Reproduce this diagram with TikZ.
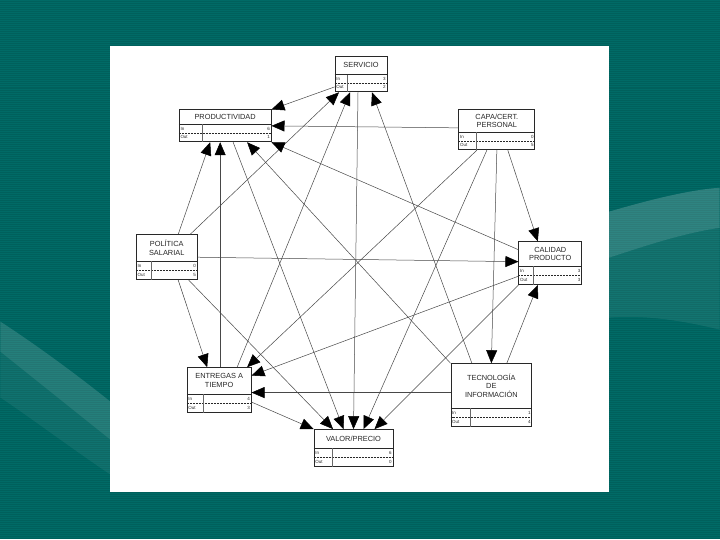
\documentclass[tikz,border=0pt]{standalone}
\usepackage{fontspec}
\setmainfont{Liberation Sans}
\usetikzlibrary{arrows.meta,calc}
\definecolor{bgteal}{RGB}{0,106,102}
\definecolor{bgstripe}{RGB}{0,96,92}
\definecolor{ink}{RGB}{40,40,40}
\newcommand\boxrows[7]{%
  \node[ttl] (#1-t) at ($(#1.north)+(0,{#2/2})$) {#7};
  \draw[sepline] ($(#1.north west)+(0,#2)$) -- ($(#1.north east)+(0,#2)$);
  \draw[rowline] ($(#1.north west)+(0,#3)$) -- ($(#1.north east)+(0,#3)$);
  \draw[divline] ($(#1.north west)+(#4,#2)$) -- ($(#1.south west)+(#4,0)$);
  \node[lab,anchor=west] (#1-in) at ($(#1.north west)+(1.5,{(#2+#3)/2})$) {In};
  \node[lab,anchor=west] (#1-out) at ($(#1.north west)+(1.5,{(3*#3-#2)/2})$) {Out};
  \node[lab,anchor=east] (#1-ni) at ($(#1.north east)+(-1.5,{(#2+#3)/2})$) {#5};
  \node[lab,anchor=east] (#1-no) at ($(#1.north east)+(-1.5,{(3*#3-#2)/2})$) {#6};
}
\begin{document}
\begin{tikzpicture}[x=1pt,y=-1pt,
  blk/.style={draw=ink, line width=0.8pt, fill=white, inner sep=0pt},
  ttl/.style={font=\fontsize{7.4}{8.6}\selectfont, text=ink, align=center, inner sep=0pt},
  lab/.style={font=\fontsize{4.5}{4.5}\selectfont, text=ink, inner sep=0pt},
  sepline/.style={draw=ink, line width=0.5pt},
  rowline/.style={draw=ink, line width=0.5pt, dash pattern=on 2pt off 1pt},
  divline/.style={draw=ink!70, line width=0.35pt},
  arr/.style={draw=ink!85, line width=0.5pt, -{Triangle[length=13pt,width=11pt,fill=black,color=black]}}]
% background
\fill[bgteal] (0,0) rectangle (720,540);
\foreach \yy in {1,3,...,540} \draw[bgstripe, line width=0.8pt] (0,\yy) -- (720,\yy);
\fill[white, opacity=0.18] (609,212) .. controls (650,200) and (690,190) .. (720,188) -- (720,228) .. controls (680,234) and (640,248) .. (609,258) -- cycle;
\fill[white, opacity=0.07] (609,258) .. controls (640,248) and (680,234) .. (720,228) -- (720,330) .. controls (680,320) and (640,315) .. (609,318) -- cycle;
\fill[white, opacity=0.14] (0,322) .. controls (40,348) and (80,378) .. (110,402) -- (110,440) .. controls (75,412) and (35,380) .. (0,352) -- cycle;
\fill[white, opacity=0.06] (0,352) .. controls (35,380) and (75,412) .. (110,440) -- (110,475) .. controls (70,448) and (30,418) .. (0,398) -- cycle;
% panel
\fill[white] (110,46) rectangle (609,493);
\useasboundingbox (0,0) rectangle (720,540);
% nodes
\node[blk, minimum width=52pt, minimum height=36pt] (serv) at (361,74) {};
\node[blk, minimum width=92pt, minimum height=32pt] (prod) at (225,126) {};
\node[blk, minimum width=76pt, minimum height=40pt] (capa) at (497,130) {};
\node[blk, minimum width=61pt, minimum height=45pt] (pol) at (166.5,257.5) {};
\node[blk, minimum width=63pt, minimum height=43pt] (cal) at (550.5,263.5) {};
\node[blk, minimum width=64pt, minimum height=45pt] (ent) at (219,390.5) {};
\node[blk, minimum width=81pt, minimum height=63pt] (tec) at (491.5,395.5) {};
\node[blk, minimum width=79pt, minimum height=37pt] (valor) at (353.5,448.5) {};
\boxrows{serv}{19}{27.5}{13}{3}{2}{SERVICIO}
\boxrows{prod}{15}{23.5}{23}{6}{1}{PRODUCTIVIDAD}
\boxrows{capa}{23}{31.5}{18}{0}{5}{CAPA/CERT.\\PERSONAL}
\boxrows{pol}{27}{36}{15}{0}{5}{POLÍTICA\\SALARIAL}
\boxrows{cal}{25}{34}{15}{3}{3}{CALIDAD\\PRODUCTO}
\boxrows{ent}{27}{36}{16}{4}{3}{ENTREGAS A\\TIEMPO}
\boxrows{tec}{45}{54}{20}{1}{4}{TECNOLOGÍA\\DE\\INFORMACIÓN}
\boxrows{valor}{19}{28}{19}{6}{0}{VALOR/PRECIO}
% connectors
\draw[arr] ([xshift=23.5pt]pol.north) -- ([xshift=-22pt]serv.south);
\draw[arr] ([xshift=18pt]ent.north) -- ([xshift=-11pt]serv.south);
\draw[arr] ([xshift=-19.5pt]tec.north) -- ([xshift=11pt]serv.south);
\draw[arr] ([yshift=-13pt]serv.west) -- (prod.north east);
\draw[arr] ([yshift=2pt]capa.west) -- (prod.east);
\draw[arr] ([xshift=11.5pt]pol.north) -- ([xshift=-15pt]prod.south);
\draw[arr] ([xshift=1pt]ent.north) -- ([xshift=-5pt]prod.south);
\draw[arr] (tec.north west) -- ([xshift=22pt]prod.south);
\draw[arr] ([yshift=13.5pt]cal.west) -- (prod.south east);
\draw[arr] ([xshift=11pt]capa.south) -- ([xshift=-12.5pt]cal.north);
\draw[arr] (pol.east) -- ([yshift=1.5pt]cal.west);
\draw[arr] ([xshift=15.5pt]tec.north) -- ([xshift=-12.5pt]cal.south);
\draw[arr] ([xshift=11.5pt]pol.south) -- ([xshift=-12pt]ent.north);
\draw[arr] ([xshift=-20pt]capa.south) -- ([xshift=28pt]ent.north);
\draw[arr] ([yshift=-13pt]cal.west) -- ([yshift=14.5pt]ent.east);
\draw[arr] ([yshift=2.5pt]tec.west) -- ([yshift=-2.5pt]ent.east);
\draw[arr] (capa.south) -- (tec.north);
\draw[arr] ([yshift=-12pt]ent.east) -- (valor.north west);
\draw[arr] ([xshift=22pt]pol.south) -- ([xshift=-20.5pt]valor.north);
\draw[arr] ([xshift=8pt]prod.south) -- ([xshift=-10pt]valor.north);
\draw[arr] ([xshift=-3pt]serv.south) -- (valor.north);
\draw[arr] ([xshift=-10pt]capa.south) -- ([xshift=10pt]valor.north);
\draw[arr] (cal.south west) -- ([xshift=21pt]valor.north);
\end{tikzpicture}
\end{document}
